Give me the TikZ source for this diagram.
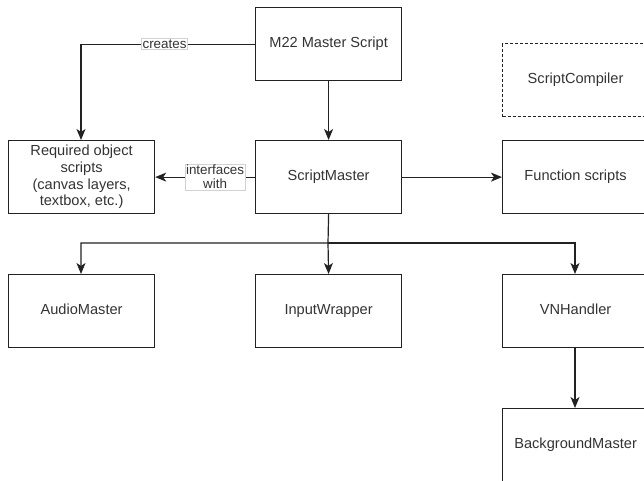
\documentclass[tikz,border=0pt]{standalone}
\usepackage{fontspec}
\setmainfont{Liberation Sans}
\usetikzlibrary{arrows.meta}
\definecolor{ln}{HTML}{222222}
\definecolor{tx}{HTML}{333333}
\begin{document}
\begin{tikzpicture}[x=1pt,y=-1pt,
  box/.style={draw=ln,line width=1.2pt,minimum width=146pt,minimum height=73pt,inner sep=0pt,anchor=north west,text=tx,font=\fontsize{14.6}{16.7}\selectfont,align=center},
  dbox/.style={box,dashed,dash pattern=on 3pt off 2pt},
  conn/.style={draw=ln,line width=1.2pt,-{Stealth[length=11pt,width=9pt,inset=3pt]}},
  lbl/.style={fill=white,draw=gray!35,line width=0.6pt,inner sep=1pt,text=tx,font=\fontsize{13.4}{14}\selectfont,align=center}]
\useasboundingbox (0,0) rectangle (644,480);
\node[box] (m22) at (255,7) {\strut M22 Master Script};
\node[dbox] (sc) at (502,43) {\strut ScriptCompiler};
\node[box] (req) at (8,140) {Required object\\scripts\\(canvas layers,\\textbox, etc.)};
\node[box] (sm) at (255,140) {\strut ScriptMaster};
\node[box] (fs) at (502,140) {\strut Function scripts};
\node[box] (am) at (8,274) {\strut AudioMaster};
\node[box] (iw) at (255,274) {\strut InputWrapper};
\node[box] (vn) at (502,274) {\strut VNHandler};
\node[box] (bg) at (502,408) {\strut BackgroundMaster};
\coordinate (bus) at (328,243);
\coordinate (busl) at (81,243);
\coordinate (busr) at (575,243);
\coordinate (reqt) at (81,140);
\coordinate (amt) at (81,274);
\coordinate (vnt) at (575,274);
\coordinate (vnb) at (575,347);
\coordinate (bgt) at (575,408);
\draw[conn] (m22.west) -| node[lbl,pos=0.26] {creates} (reqt);
\draw[conn] (m22.south) -- (sm.north);
\draw[conn] (sm.west) -- node[lbl,pos=0.4] {interfaces\\with} (req.east);
\draw[conn] (sm.east) -- (fs.west);
\draw[conn] (sm.south) -- (bus) -- (busl) -- (amt);
\draw[conn] (bus) -- (iw.north);
\draw[conn] (bus) -- (busr) -- (vnt);
\draw[conn] (vnb) -- (bgt);
\end{tikzpicture}
\end{document}
